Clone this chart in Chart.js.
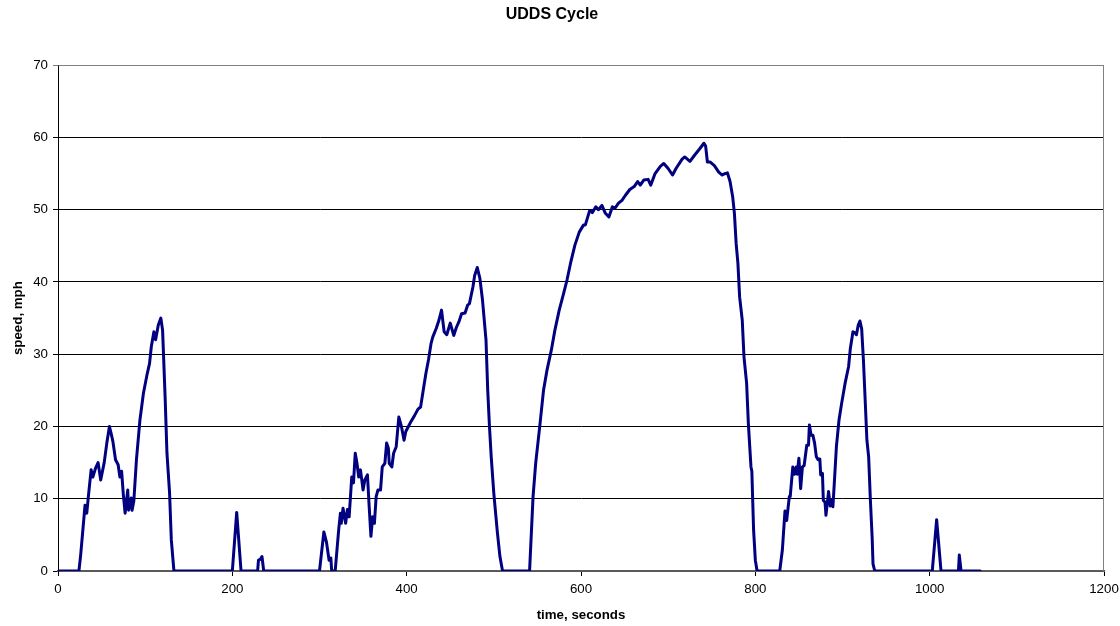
<!DOCTYPE html>
<html>
<head>
<meta charset="utf-8">
<title>UDDS Cycle</title>
<script src="https://cdn.jsdelivr.net/npm/chart.js@4"></script>
<style>
    html, body { margin: 0; padding: 0; background: #fff; }
    #wrap { width: 1120px; height: 626px; }
</style>
</head>
<body>
<div id="wrap"><canvas id="cycleChart" width="1120" height="626"></canvas></div>
<script>
// values
const timeSec = [
    0, 24, 26, 31, 33, 35, 38, 40, 43, 46, 49, 53, 56, 59, 61, 63, 66, 69, 71, 73,
    75, 77, 80, 81, 84, 85, 87, 90, 94, 98, 102, 105, 107, 110, 112, 115, 118, 120, 123, 125,
    128, 130, 133, 200, 205, 210, 229, 230, 232, 234, 236, 300, 305, 308, 311, 313, 314, 318, 322, 324,
    325, 327, 330, 332, 334, 337, 339, 341, 343, 345, 347, 350, 352, 355, 357, 359, 361, 363, 365, 367,
    370, 372, 375, 377, 379, 380, 383, 385, 388, 391, 394, 397, 399, 402, 405, 409, 413, 416, 419, 422,
    425, 428, 430, 434, 437, 440, 443, 446, 450, 454, 457, 460, 463, 467, 470, 472, 476, 478, 481, 484,
    487, 491, 493, 495, 497, 500, 504, 507, 510, 541, 545, 548, 553, 557, 561, 566, 570, 575, 580, 584,
    588, 593, 598, 603, 605, 610, 613, 617, 620, 624, 628, 632, 636, 639, 643, 647, 651, 656, 661, 665,
    668, 672, 677, 680, 685, 691, 695, 700, 705, 709, 716, 719, 725, 730, 736, 741, 743, 745, 748, 750,
    753, 758, 762, 765, 768, 771, 774, 776, 778, 780, 782, 785, 787, 790, 792, 795, 796, 798, 800, 802,
    828, 831, 834, 836, 839, 840, 843, 845, 847, 848, 850, 852, 854, 856, 859, 861, 862, 864, 866, 868,
    870, 872, 874, 875, 877, 878, 880, 881, 883, 884, 886, 887, 889, 891, 893, 896, 899, 903, 907, 909,
    912, 914, 916, 918, 920, 922, 924, 926, 928, 930, 932, 934, 935, 937, 1003, 1008, 1013, 1033, 1034, 1036,
    1058
];
const speedMph = [
    0, 0, 2.2, 9.1, 8.0, 10.5, 14, 13, 14.2, 15, 12.6, 15, 17.7, 20, 19, 17.9, 15.4, 14.7, 13, 13.8,
    10.5, 8.0, 11.2, 8.4, 10.1, 8.4, 9.7, 15.4, 20.9, 24.6, 27.1, 28.7, 31, 33.1, 32, 34, 35, 33.3, 23.7, 16.3,
    10.8, 4.3, 0, 0, 8.1, 0, 0, 1.5, 1.6, 2, 0, 0, 5.4, 4, 1.5, 1.8, 0, 0, 5.7, 8,
    6.6, 8.7, 6.6, 8.5, 7.5, 13, 12.2, 16.3, 14.9, 13, 14, 11.2, 12.6, 13.3, 8.9, 4.8, 7.5, 6.6, 10.3, 11.2,
    11.2, 14.4, 14.9, 17.7, 17, 14.9, 14.4, 16.3, 17.2, 21.3, 20, 18.1, 19.3, 20, 20.7, 21.5, 22.4, 22.7, 25, 27.3,
    29.2, 31.5, 32.4, 33.6, 34.7, 36.1, 33.1, 32.7, 34.3, 32.6, 33.7, 34.5, 35.6, 35.7, 36.8, 37, 39.3, 40.9, 42, 40.5,
    37.5, 32, 25, 20, 15.8, 10.7, 5.4, 2, 0, 0, 10.3, 14.9, 20.4, 25, 27.8, 30.6, 33.3, 36.1, 38.4, 40.3,
    42.6, 45.1, 46.9, 47.9, 47.9, 49.9, 49.6, 50.4, 50, 50.6, 49.5, 49, 50.4, 50.2, 50.9, 51.3, 52, 52.8, 53.2, 53.9,
    53.4, 54.1, 54.2, 53.4, 55, 56, 56.4, 55.7, 54.8, 55.7, 57, 57.3, 56.7, 57.5, 58.4, 59.2, 58.8, 56.6, 56.6, 56.4,
    56.1, 55.2, 54.8, 55, 55.1, 53.9, 51.8, 49.5, 45.3, 42.6, 37.9, 34.7, 29.6, 26, 20.4, 14.4, 13.8, 5.7, 1.5, 0,
    0, 2.9, 8.3, 7.0, 10.3, 10.3, 14.4, 13.4, 14.4, 13.4, 15.6, 11.4, 14.4, 14.6, 17.4, 17.4, 20.2, 18.8, 18.8, 17.7,
    15.8, 15.4, 15.5, 13.3, 13.5, 9.8, 9.5, 7.7, 9.8, 11, 9, 9.8, 8.9, 13, 17.2, 20.9, 23.2, 26, 28.3, 30.8,
    33.1, 33, 32.7, 34, 34.6, 33.5, 29.2, 23.7, 18.1, 15.8, 9.8, 4.7, 1, 0, 0, 7.1, 0, 0, 2.2, 0,
    0
];
const xTicks = [0, 200, 400, 600, 800, 1000, 1200];
const yTicks = [0, 10, 20, 30, 40, 50, 60, 70];

const FONT = 'Arial, "Liberation Sans", sans-serif';

// Excel style frame around the plot area
const plotFrame = {
    id: 'plotFrame',
    beforeDatasetsDraw(chart) {
        const a = chart.chartArea;
        const ctx = chart.ctx;
        ctx.save();
        ctx.strokeStyle = '#808080';
        ctx.lineWidth = 1;
        ctx.beginPath();
        ctx.moveTo(Math.round(a.left) + 0.5, Math.round(a.top) + 0.5);
        ctx.lineTo(Math.round(a.right) - 0.5, Math.round(a.top) + 0.5);
        ctx.lineTo(Math.round(a.right) - 0.5, Math.round(a.bottom));
        ctx.stroke();
        ctx.restore();
    }
};

const points = timeSec.map((t, i) => ({ x: t, y: speedMph[i] }));

new Chart(document.getElementById('cycleChart').getContext('2d'), {
    type: 'line',
    data: {
        datasets: [{
            label: 'speed',
            data: points,
            borderColor: '#000080',
            borderWidth: 3,
            borderJoinStyle: 'round',
            borderCapStyle: 'round',
            pointRadius: 0,
            tension: 0,
            fill: false
        }]
    },
    options: {
        responsive: false,
        animation: false,
        layout: { padding: { left: 0, right: 16, top: 0, bottom: 0 } },
        plugins: {
            legend: { display: false },
            tooltip: { enabled: false },
            title: {
                display: true,
                text: 'UDDS Cycle',
                color: '#000',
                font: { family: FONT, size: 16, weight: 'bold' },
                padding: { top: 5, bottom: 41 }
            }
        },
        scales: {
            x: {
                type: 'linear',
                min: 0,
                max: 1200,
                afterBuildTicks(scale) {
                    scale.ticks = xTicks.map(v => ({ value: v }));
                },
                afterFit(scale) {
                    scale.height = 55;
                    scale.paddingRight = 0;
                },
                ticks: {
                    color: '#000',
                    padding: 5,
                    maxRotation: 0,
                    font: { family: FONT, size: 13.3 },
                    callback: value => String(value)
                },
                grid: { drawOnChartArea: false, drawTicks: true, tickLength: 5, color: '#000' },
                border: { color: '#5a5a5a', width: 2 },
                title: {
                    display: true,
                    text: 'time, seconds',
                    color: '#000',
                    font: { family: FONT, size: 13.3, weight: 'bold' },
                    padding: { top: 0, bottom: 3 }
                }
            },
            y: {
                min: 0,
                max: 70,
                afterBuildTicks(scale) {
                    scale.ticks = yTicks.map(v => ({ value: v }));
                },
                afterFit(scale) { scale.width = 58; },
                ticks: {
                    color: '#000',
                    padding: 5,
                    font: { family: FONT, size: 13.3 },
                    callback: value => String(value)
                },
                grid: {
                    color: ctx => (ctx.tick && ctx.tick.value === 70 ? '#808080' : '#000'),
                    tickLength: 5,
                    lineWidth: 1
                },
                border: { color: '#000', width: 1 },
                title: {
                    display: true,
                    text: 'speed, mph',
                    color: '#000',
                    font: { family: FONT, size: 13.3, weight: 'bold' },
                    padding: { top: 10, bottom: 0 }
                }
            }
        }
    },
    plugins: [plotFrame]
});
</script>
</body>
</html>
